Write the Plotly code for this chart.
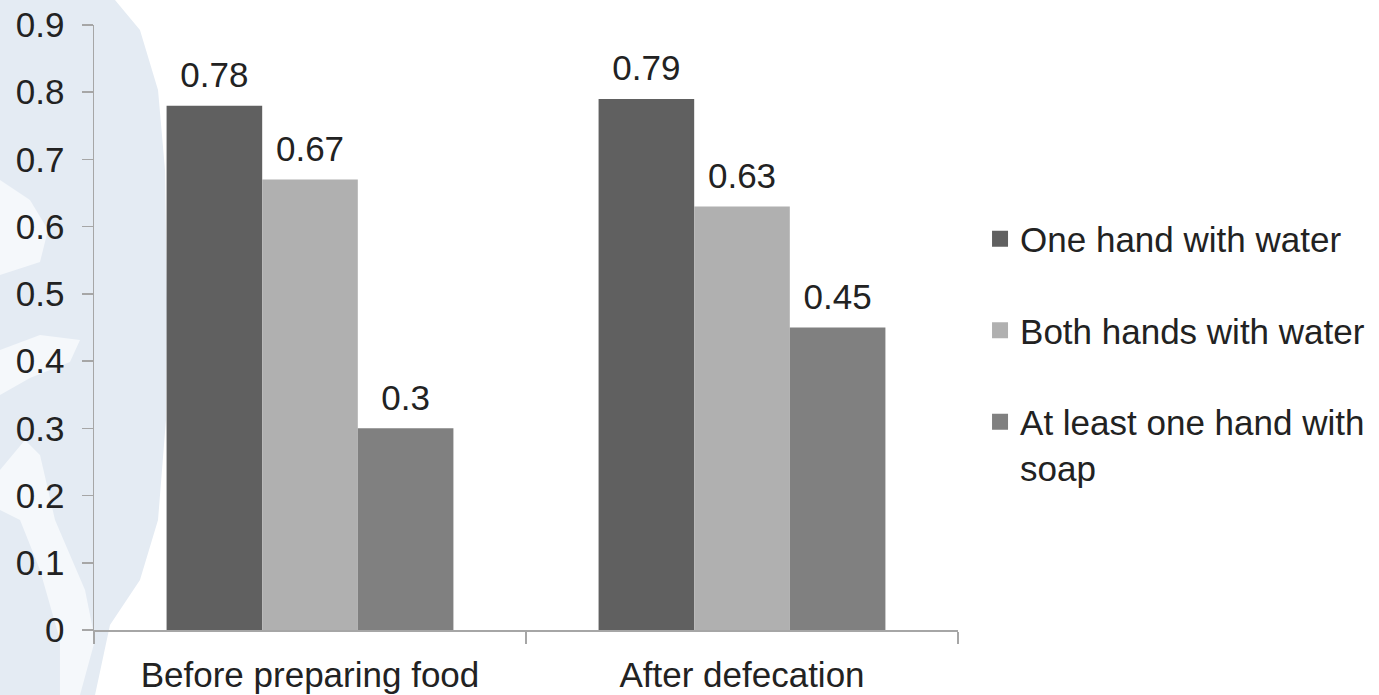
import plotly.graph_objects as go

categories = ["Before preparing food", "After defecation"]
series_names = ["One hand with water", "Both hands with water", "At least one hand with<br>soap"]
one_hand_water = [0.78, 0.79]
both_hands_water = [0.67, 0.63]
soap_one_hand = [0.30, 0.45]
series_values = [one_hand_water, both_hands_water, soap_one_hand]
series_colors = ["#606060", "#b0b0b0", "#808080"]
y_ticks = [0, 0.1, 0.2, 0.3, 0.4, 0.5, 0.6, 0.7, 0.8, 0.9]
y_tick_labels = ["0", "0.1", "0.2", "0.3", "0.4", "0.5", "0.6", "0.7", "0.8", "0.9"]

FONT = "Liberation Sans, Arial, sans-serif"
W, H = 1379, 695
ML, MT = 94, 25
PW, PH = 864, 605
MR, MB = W - ML - PW, H - MT - PH

fig = go.Figure()
for i, (name, vals, col) in enumerate(zip(series_names, series_values, series_colors)):
    fig.add_trace(go.Bar(
        x=categories, y=vals, name=name, marker=dict(color=col, line=dict(width=0)),
        offsetgroup=str(i), legendgroup=str(i), showlegend=False, hoverinfo="skip",
    ))
for i, vals in enumerate(series_values):
    fig.add_trace(go.Scatter(
        x=categories, y=vals, mode="markers+text", text=[f"{v:g}" for v in vals],
        textposition="top center", textfont=dict(family=FONT, size=35, color="#222222"),
        marker=dict(size=14, opacity=0), offsetgroup=str(i), showlegend=False,
        hoverinfo="skip", cliponaxis=False,
    ))
# legend entries (square swatches)
for i, (name, col) in enumerate(zip(series_names, series_colors)):
    fig.add_trace(go.Scatter(
        x=[None], y=[None], mode="markers", name=name, legendgroup=str(i),
        marker=dict(symbol="square", size=19, color=col, line=dict(width=0)),
        showlegend=True, hoverinfo="skip",
    ))

# decorative watermark (pixel coords -> paper coords)
def pp(pts):
    out = []
    for k, (px, py) in enumerate(pts):
        x = (px - ML) / PW
        y = (MT + PH - py) / PH
        out.append(("M" if k == 0 else "L") + f"{x:.4f},{y:.4f}")
    return " ".join(out) + " Z"

blue = [(0, 0), (115, 0), (140, 30), (158, 90), (165, 170), (167, 300), (166, 420),
        (158, 520), (140, 580), (110, 625), (95, 695), (0, 695)]
white1 = [(0, 180), (30, 200), (48, 230), (40, 262), (0, 275)]
white2 = [(0, 350), (40, 335), (80, 340), (70, 362), (30, 378), (0, 395)]
white3 = [(0, 470), (25, 440), (40, 455), (55, 520), (85, 590), (95, 640), (80, 695), (60, 695),
          (60, 640), (40, 570), (20, 520), (0, 510)]
shapes = [
    dict(type="path", path=pp(blue), xref="paper", yref="paper", fillcolor="#e4ebf3",
         line=dict(width=0), layer="below"),
]
for wp in (white1, white2, white3):
    shapes.append(dict(type="path", path=pp(wp), xref="paper", yref="paper",
                       fillcolor="#f5f8fb", line=dict(width=0), layer="below"))

fig.update_layout(
    width=W, height=H,
    margin=dict(l=ML, r=MR, t=MT, b=MB, pad=0, autoexpand=False),
    paper_bgcolor="white", plot_bgcolor="rgba(0,0,0,0)",
    barmode="group", bargap=0.336, bargroupgap=0,
    scattermode="group", scattergap=0.336,
    font=dict(family=FONT, size=35, color="#222222"),
    showlegend=True,
    legend=dict(x=1.0255, xanchor="left", y=0.695, yanchor="top", valign="top",
                font=dict(family=FONT, size=35, color="#222222"),
                tracegroupgap=43, itemwidth=30, bgcolor="rgba(0,0,0,0)"),
    shapes=shapes,
    xaxis=dict(type="category", showline=True, linecolor="#a6a6a6", linewidth=1.5,
               ticks="outside", tickson="boundaries", ticklen=12, tickcolor="#a6a6a6",
               tickwidth=1.5, showgrid=False, zeroline=False, automargin=False,
               ticklabelstandoff=13, ticklabeloverflow="allow",
               tickfont=dict(family=FONT, size=35, color="#222222"), fixedrange=True),
    yaxis=dict(range=[0, 0.9], tickvals=y_ticks, ticktext=y_tick_labels, showline=True,
               linecolor="#a6a6a6", linewidth=1.5, ticks="outside", ticklen=11,
               tickcolor="#a6a6a6", tickwidth=1.5, showgrid=False, zeroline=False,
               ticklabelstandoff=10, automargin=False, ticklabeloverflow="allow",
               tickfont=dict(family=FONT, size=35, color="#222222"), fixedrange=True),
)

fig.write_html("out.html", config={"displayModeBar": False, "staticPlot": True},
               post_script="document.body.style.margin='0';document.body.style.overflow='hidden';")
